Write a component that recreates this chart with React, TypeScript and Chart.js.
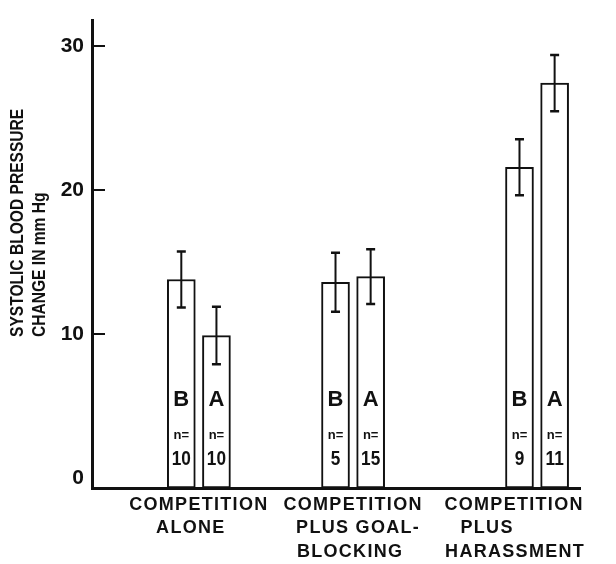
import React, { useEffect, useRef } from "react";
import { Chart, registerables } from "chart.js";

Chart.register(...registerables);

// ---- data ----
const categories: string[][] = [
  ["COMPETITION", "ALONE"],
  ["COMPETITION", "PLUS GOAL-", "BLOCKING"],
  ["COMPETITION", "PLUS", "HARASSMENT"],
];
const seriesNames = ["B", "A"];
const valuesB = [13.8, 13.6, 21.6];
const valuesA = [9.9, 14.0, 27.45];
const errorsB = [1.95, 2.05, 1.95];
const errorsA = [2.0, 1.9, 1.95];
const countsB = [10, 5, 9];
const countsA = [10, 15, 11];
const yTicks = [0, 10, 20, 30];
const yTitle = ["SYSTOLIC BLOOD PRESSURE", "CHANGE IN mm Hg"];

// ---- layout (not data) ----
const groupX = [21.9, 53.5, 91.2];
const barOffset = 3.6;
const labelX = [21.9, 53.5, 86.5];
const lineDx = [
  [0, -8],
  [0, 5, -3],
  [0, -27, 1],
];
const FONT = "'Liberation Sans', Arial, Helvetica, sans-serif";
const INK = "#111";

const overlay = {
  id: "overlay",
  afterDraw(chart: any) {
    const ctx = chart.ctx as CanvasRenderingContext2D;
    const xs = chart.scales.x;
    const ys = chart.scales.y;
    const area = chart.chartArea;
    ctx.save();
    ctx.strokeStyle = INK;
    ctx.fillStyle = INK;

    // inward tick marks
    ctx.lineWidth = 2;
    yTicks.forEach((v) => {
      if (v === 0) return;
      const y = Math.round(ys.getPixelForValue(v));
      ctx.beginPath();
      ctx.moveTo(area.left, y);
      ctx.lineTo(area.left + 13, y);
      ctx.stroke();
    });

    // error bars + inner labels
    const errs = [errorsB, errorsA];
    const vals = [valuesB, valuesA];
    const counts = [countsB, countsA];
    chart.data.datasets.forEach((ds: any, di: number) => {
      const meta = chart.getDatasetMeta(di);
      meta.data.forEach((el: any, i: number) => {
        const x = el.x;
        const v = vals[di][i];
        const e = errs[di][i];
        const yT = ys.getPixelForValue(v + e);
        const yB = ys.getPixelForValue(v - e);
        ctx.lineWidth = 2;
        ctx.beginPath();
        ctx.moveTo(x, yT);
        ctx.lineTo(x, yB);
        ctx.stroke();
        ctx.lineWidth = 2.5;
        ctx.beginPath();
        ctx.moveTo(x - 4.5, yT);
        ctx.lineTo(x + 4.5, yT);
        ctx.moveTo(x - 4.5, yB);
        ctx.lineTo(x + 4.5, yB);
        ctx.stroke();

        ctx.textAlign = "center";
        ctx.textBaseline = "middle";
        ctx.font = `bold 22px ${FONT}`;
        ctx.fillText(seriesNames[di], x, ys.getPixelForValue(5.4));
        ctx.font = `bold 13px ${FONT}`;
        ctx.fillText("n=", x, ys.getPixelForValue(2.95));
        ctx.save();
        ctx.translate(x, ys.getPixelForValue(1.3));
        ctx.scale(0.82, 1);
        ctx.font = `bold 21px ${FONT}`;
        ctx.fillText(String(counts[di][i]), 0, 0);
        ctx.restore();
      });
    });

    // y-axis title (rotated, left-aligned)
    const titleX = [23, 45];
    yTitle.forEach((t, k) => {
      ctx.save();
      ctx.translate(titleX[k], 337);
      ctx.rotate(-Math.PI / 2);
      ctx.scale(0.82, 1);
      ctx.font = `bold 19px ${FONT}`;
      ctx.textAlign = "left";
      ctx.textBaseline = "alphabetic";
      ctx.fillText(t, 0, 0);
      ctx.restore();
    });

    // category labels
    ctx.font = `bold 18px ${FONT}`;
    (ctx as any).letterSpacing = "1.3px";
    ctx.textAlign = "center";
    ctx.textBaseline = "middle";
    categories.forEach((lines, gi) => {
      const cx = xs.getPixelForValue(labelX[gi]);
      lines.forEach((ln, li) => {
        ctx.fillText(ln, cx + lineDx[gi][li], 505 + li * 23.5);
      });
    });
    (ctx as any).letterSpacing = "0px";
    ctx.restore();
  },
};

export default function App() {
  const ref = useRef<HTMLCanvasElement>(null);
  useEffect(() => {
    if (!ref.current) return;
    const barStyle = {
      grouped: false,
      barThickness: 28,
      base: -0.7,
      backgroundColor: "#ffffff",
      borderColor: INK,
      borderWidth: 2,
      borderSkipped: false,
    };
    const chart = new Chart(ref.current, {
      type: "bar",
      data: {
        datasets: [
          {
            label: seriesNames[0],
            data: valuesB.map((v, i) => ({ x: groupX[i] - barOffset, y: v })),
            ...barStyle,
          },
          {
            label: seriesNames[1],
            data: valuesA.map((v, i) => ({ x: groupX[i] + barOffset, y: v })),
            ...barStyle,
          },
        ] as any,
      },
      options: {
        animation: false,
        responsive: true,
        maintainAspectRatio: false,
        layout: { padding: { top: 8, right: 36, left: 0, bottom: 0 } },
        plugins: {
          legend: { display: false },
          tooltip: { enabled: false },
          colors: { enabled: false },
        } as any,
        scales: {
          x: {
            type: "linear",
            offset: false,
            min: 0,
            max: 100,
            grid: { display: false, drawTicks: false },
            ticks: { display: false },
            border: { display: true, width: 3, color: INK, z: 1 } as any,
            afterFit: (s: any) => {
              s.height = 76;
            },
          },
          y: {
            type: "linear",
            min: -0.7,
            max: 31.8,
            grid: { display: false, drawTicks: false },
            border: { display: true, width: 3, color: INK, z: 1 } as any,
            afterBuildTicks: (s: any) => {
              s.ticks = yTicks.map((v) => ({ value: v }));
            },
            ticks: {
              color: INK,
              padding: 8,
              font: { family: FONT, size: 21, weight: "bold" },
              callback: (v: any) => String(v),
            },
            afterFit: (s: any) => {
              s.width = 92;
            },
          },
        },
      } as any,
      plugins: [overlay],
    });
    return () => chart.destroy();
  }, []);
  return (
    <div style={{ position: "fixed", left: 0, top: 0, width: 616, height: 564, background: "#fff" }}>
      <canvas ref={ref} />
    </div>
  );
}
